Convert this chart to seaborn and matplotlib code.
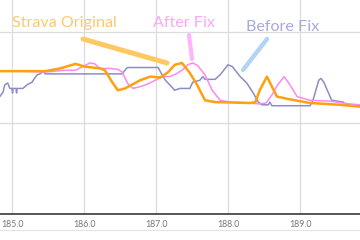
import matplotlib
matplotlib.use("Agg")
import matplotlib.pyplot as plt
import seaborn as sns
import pandas as pd
from matplotlib.lines import Line2D

# ---- data (distance in km, speed-like value) ----
orig_x = [184.83,185.11,185.46,185.67,185.88,186.01,186.22,186.29,186.39,186.47,186.57,186.64,186.78,186.92,187.06,187.17,187.26,187.36,187.47,187.57,187.68,187.82,188.31,188.38,188.44,188.54,188.61,188.68,188.86,189.0,189.14,189.56,189.83]
orig_y = [15.7,15.7,15.7,16.0,16.5,16.2,16.0,15.8,14.5,13.6,13.8,14.1,14.7,15.1,15.0,15.6,16.4,16.6,15.5,14.2,12.5,12.3,12.2,12.3,13.6,15.1,14.0,12.9,12.6,12.4,12.2,12.0,11.8]

after_x = [184.83,185.11,185.46,185.60,185.74,185.88,186.01,186.08,186.15,186.22,186.36,186.47,186.53,186.61,186.68,186.78,186.89,186.99,187.08,187.19,187.28,187.36,187.44,187.51,187.58,187.68,187.78,187.89,188.03,188.31,188.42,188.53,188.61,188.69,188.78,188.86,188.96,189.14,189.42,189.69,189.83]
after_y = [15.7,15.7,15.6,15.7,15.8,15.8,16.3,16.6,16.5,16.0,16.0,15.9,15.6,14.3,13.8,14.0,14.3,14.7,15.1,15.1,15.4,15.8,16.4,16.6,16.3,15.3,13.6,12.5,12.3,12.2,12.1,12.2,13.1,14.2,15.1,14.2,12.9,12.5,12.4,12.1,12.0]

before_x = [184.83,184.875,184.90,184.94,184.97,185.0,185.007,185.014,185.056,185.063,185.069,185.15,185.21,185.28,185.32,185.35,185.39,185.43,185.46,186.53,186.57,186.60,187.03,187.07,187.13,187.19,187.26,187.33,187.47,187.51,187.61,187.65,187.68,187.82,187.89,187.96,188.0,188.06,188.10,188.17,188.26,188.35,188.42,188.47,188.56,188.58,188.61,189.14,189.18,189.22,189.26,189.29,189.33,189.39,189.44,189.60,189.63,189.83]
before_y = [12.9,13.4,14.2,14.4,13.8,13.8,13.3,13.8,13.8,13.3,13.8,13.8,14.2,14.5,15.0,15.3,15.4,15.7,15.4,15.4,15.8,16.1,16.1,15.5,14.7,14.2,13.6,13.8,13.8,14.5,14.7,15.1,14.8,14.8,15.3,16.0,16.4,16.2,15.8,15.1,14.4,13.3,12.3,12.0,12.0,12.3,11.9,11.9,12.5,13.6,14.7,14.9,14.5,13.4,12.5,12.3,12.0,11.9]

x_ticks = [185.0, 186.0, 187.0, 188.0, 189.0]
x_tick_labels = ["185.0", "186.0", "187.0", "188.0", "189.0"]
y_grid = [0, 10, 20]

sns.set_theme(style="white")
plt.rcParams['font.family'] = ['Lato', 'DejaVu Sans']

fig = plt.figure(figsize=(3.6, 2.4), dpi=100)
ax = fig.add_axes([0, 26/240, 1, 214/240])

df_b = pd.DataFrame({"x": before_x, "y": before_y})
df_a = pd.DataFrame({"x": after_x, "y": after_y})
df_o = pd.DataFrame({"x": orig_x, "y": orig_y})

sns.lineplot(data=df_b, x="x", y="y", ax=ax, color="#8c8cc8", linewidth=1.1,
             estimator=None, sort=False)
sns.lineplot(data=df_a, x="x", y="y", ax=ax, color="#ff88f0", linewidth=1.1,
             estimator=None, sort=False)
sns.lineplot(data=df_o, x="x", y="y", ax=ax, color="#ffa010", linewidth=1.8,
             estimator=None, sort=False)

ax.set_xlim(184.833, 189.833)
ax.set_ylim(0, 23.52)
ax.set_xticks(x_ticks)
ax.set_xticklabels(x_tick_labels)
ax.set_yticks(y_grid)
ax.set_yticklabels([])
ax.grid(True, color="#dcdcdc", linewidth=0.9)
ax.tick_params(axis="x", length=0, pad=4, labelsize=6.3, colors="#777777")
ax.tick_params(axis="y", length=0)
ax.set_xlabel("")
ax.set_ylabel("")
for s in ["top", "left", "right"]:
    ax.spines[s].set_visible(False)
ax.spines["bottom"].set_color("#555555")
ax.spines["bottom"].set_linewidth(1.4)

# annotations
ax.text(12/360, 0.8925, "Strava Original", transform=ax.transAxes, color="#ffc870",
        fontsize=11.6, va="center", ha="left")
ax.text(153/360, 0.8925, "After Fix", transform=ax.transAxes, color="#ffa6f6",
        fontsize=11.6, va="center", ha="left")
ax.text(246/360, 0.874, "Before Fix", transform=ax.transAxes, color="#a8a8e0",
        fontsize=11.6, va="center", ha="left")

ax.plot([0.2306, 0.4639], [0.8178, 0.7056], transform=ax.transAxes, color="#ffc860",
        linewidth=3.6, solid_capstyle="round")
ax.plot([0.525, 0.5333], [0.8364, 0.7243], transform=ax.transAxes, color="#ffb4fa",
        linewidth=3.0, solid_capstyle="round")
ax.plot([0.7417, 0.675], [0.8178, 0.6729], transform=ax.transAxes, color="#b4d4f4",
        linewidth=3.2, solid_capstyle="round")

fig.add_artist(Line2D([0, 1], [10/240, 10/240], transform=fig.transFigure,
                      color="#e4e4e4", linewidth=0.8))

fig.savefig("out.png", dpi=100)
